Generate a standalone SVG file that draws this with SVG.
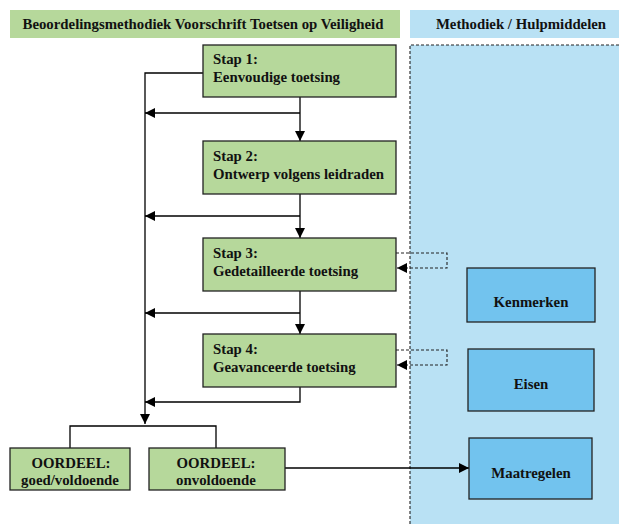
<svg xmlns="http://www.w3.org/2000/svg" width="619" height="524" viewBox="0 0 619 524">
<style>
text{font-family:"Liberation Serif","Times New Roman",serif;font-weight:bold;font-size:14.8px;fill:#111}
.g{fill:#B6D89B;stroke:#222;stroke-width:1.3}
.b{fill:#72C3EE;stroke:#222;stroke-width:1.3}
.ln{fill:none;stroke:#000;stroke-width:1.3}
.dl{fill:none;stroke:#222;stroke-width:1.1;stroke-dasharray:3,2}
.c{text-anchor:middle}
</style>
<defs>
<marker id="ah" viewBox="0 0 10 10" refX="10" refY="5" markerWidth="10" markerHeight="10" markerUnits="userSpaceOnUse" orient="auto">
<path d="M0,0 L10,5 L0,10 Z" fill="#000"/>
</marker>
</defs>
<g id="header-left"><rect x="10" y="10" width="390" height="28" fill="#B6D89B"/><text x="203" y="29" class="c">Beoordelingsmethodiek Voorschrift Toetsen op Veiligheid</text></g>
<g id="header-right"><rect x="410" y="10" width="209" height="28" fill="#B9E1F4"/><text x="521" y="29" class="c">Methodiek / Hulpmiddelen</text></g>
<g id="panel"><rect x="410" y="45" width="215" height="485" fill="#B9E1F4"/><path d="M410,524 V45 H619" class="dl"/></g>
<g id="connectors">
<path d="M203,73 H145 V424" class="ln" marker-end="url(#ah)"/>
<path d="M300,97 V141" class="ln" marker-end="url(#ah)"/>
<path d="M300,113 H145" class="ln" marker-end="url(#ah)"/>
<path d="M300,194 V238" class="ln" marker-end="url(#ah)"/>
<path d="M300,216 H145" class="ln" marker-end="url(#ah)"/>
<path d="M300,291 V334" class="ln" marker-end="url(#ah)"/>
<path d="M300,313 H145" class="ln" marker-end="url(#ah)"/>
<path d="M300,387 V402 H145" class="ln" marker-end="url(#ah)"/>
<path d="M70,448 V426 H216 V448" class="ln"/>
<path d="M285,468 H469" class="ln" marker-end="url(#ah)"/>
<path d="M396,253 H447 V268 H397" class="dl" marker-end="url(#ah)"/>
<path d="M396,350 H447 V365 H397" class="dl" marker-end="url(#ah)"/>
</g>
<g id="stap1"><rect x="203" y="45" width="193" height="52" class="g"/><text x="213" y="64">Stap 1:</text><text x="213" y="82">Eenvoudige toetsing</text></g>
<g id="stap2"><rect x="203" y="141" width="193" height="53" class="g"/><text x="213" y="161">Stap 2:</text><text x="213" y="179">Ontwerp volgens leidraden</text></g>
<g id="stap3"><rect x="203" y="238" width="193" height="53" class="g"/><text x="213" y="258">Stap 3:</text><text x="213" y="276">Gedetailleerde toetsing</text></g>
<g id="stap4"><rect x="203" y="334" width="193" height="53" class="g"/><text x="213" y="354">Stap 4:</text><text x="213" y="372">Geavanceerde toetsing</text></g>
<g id="oordeel-goed"><rect x="10" y="448" width="120" height="42" class="g"/><text x="71" y="468" class="c">OORDEEL:</text><text x="70" y="485" class="c">goed/voldoende</text></g>
<g id="oordeel-onvoldoende"><rect x="149" y="448" width="136" height="42" class="g"/><text x="216" y="468" class="c">OORDEEL:</text><text x="216" y="485" class="c">onvoldoende</text></g>
<g id="kenmerken"><rect x="467" y="268" width="128" height="54" class="b"/><text x="531" y="307" class="c">Kenmerken</text></g>
<g id="eisen"><rect x="468" y="349" width="126" height="62" class="b"/><text x="531" y="389" class="c">Eisen</text></g>
<g id="maatregelen"><rect x="469" y="438" width="123" height="61" class="b"/><text x="531" y="478" class="c">Maatregelen</text></g>
</svg>
